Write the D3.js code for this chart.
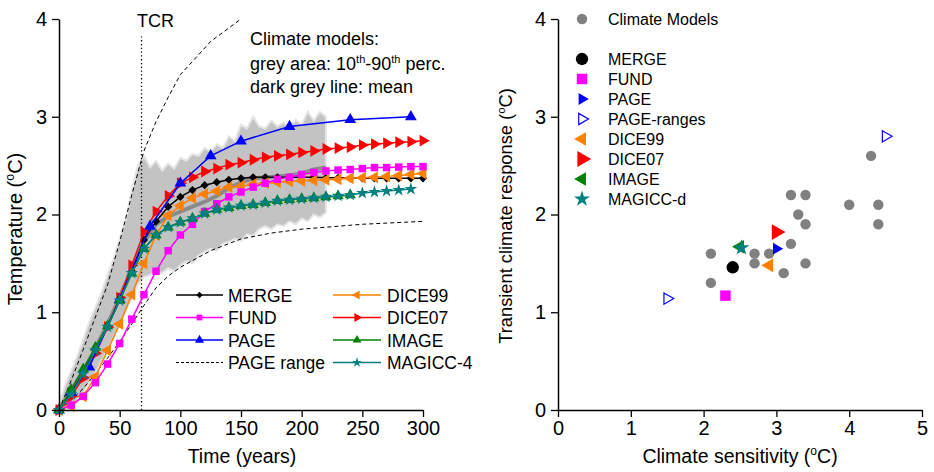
<!DOCTYPE html>
<html>
<head>
<meta charset="utf-8">
<script src="https://cdn.jsdelivr.net/npm/d3@7"></script>
<style>
  body { margin: 0; background: #fff; }
  svg text { font-family: Arial, "Liberation Sans", sans-serif; fill: #000; }
</style>
</head>
<body>
<svg id="chart" width="934" height="472"></svg>
<script>

// ---------- left panel data: temperature (°C) vs time (years) ----------
const decades = [0,10,20,30,40,50,60,70,80,90,100,110,120,130,140,150,160,170,180,190,200,210,220,230,240,250,260,270,280,290,300]
const mergeTemp  = [0,0.17,0.38,0.62,0.86,1.13,1.42,1.74,1.93,2.08,2.18,2.25,2.30,2.33,2.355,2.37,2.38,2.38,2.38,2.38,2.38,2.38,2.375,2.375,2.37,2.37,2.37,2.37,2.37,2.37,2.37]
const fundTemp   = [0,0.05,0.14,0.28,0.47,0.68,0.93,1.18,1.42,1.63,1.79,1.90,2.03,2.11,2.18,2.23,2.28,2.32,2.36,2.38,2.41,2.43,2.445,2.455,2.46,2.47,2.48,2.48,2.485,2.49,2.49]
const dice99Temp = [0,0.04,0.14,0.34,0.61,0.88,1.18,1.50,1.79,1.99,2.09,2.17,2.21,2.24,2.28,2.29,2.31,2.32,2.33,2.34,2.345,2.35,2.355,2.36,2.37,2.375,2.38,2.39,2.40,2.41,2.42]
const dice07Temp = [0,0.14,0.33,0.58,0.85,1.15,1.48,1.82,2.03,2.19,2.32,2.38,2.44,2.47,2.51,2.53,2.56,2.585,2.60,2.615,2.635,2.65,2.67,2.68,2.69,2.71,2.72,2.73,2.74,2.745,2.755]
const imageYears = [0,10,20,30,40,50,60,70,80,90,100,110,120,130,140,150,160,170,180,190,200,210,220,230,240]
const imageTemp  = [0,0.21,0.42,0.64,0.86,1.12,1.40,1.65,1.79,1.87,1.92,1.96,2.01,2.05,2.07,2.09,2.10,2.12,2.14,2.15,2.16,2.17,2.18,2.19,2.20]
const magiccYears = [0,10,20,30,40,50,60,70,80,90,100,110,120,130,140,150,160,170,180,190,200,210,220,230,240,250,260,270,280,290]
const magiccTemp  = [0,0.16,0.37,0.61,0.85,1.12,1.40,1.65,1.79,1.87,1.92,1.96,2.01,2.05,2.07,2.09,2.10,2.12,2.14,2.15,2.16,2.17,2.18,2.19,2.20,2.22,2.23,2.24,2.25,2.26]
const pageYears = [0,10,25,50,75,100,125,150,190,240,290]
const pageTemp  = [0,0.18,0.44,1.13,1.88,2.32,2.60,2.75,2.90,2.97,3.00]
const pageHiYears = [0,10,20,30,40,50,60,70,80,90,100,125,150]
const pageHiTemp  = [0,0.3,0.62,0.95,1.28,1.72,2.2,2.65,2.95,3.2,3.43,3.77,4.0]
const pageLoYears = [0,10,20,30,40,50,60,70,80,90,100,125,150,175,200,250,300]
const pageLoTemp  = [0,0.1,0.22,0.37,0.53,0.7,0.88,1.07,1.25,1.37,1.46,1.63,1.75,1.81,1.85,1.9,1.93]
// climate model 10th-90th percentile band and mean
const bandYears = [0,5,10,15,20,25,30,35,40,45,50,55,60,65,70,75,80,85,90,95,100,105,110,115,120,125,130,135,140,145,150,155,160,165,170,175,180,185,190,195,200,205,210,215,220]
const bandLow  = [0,0.02,0.05,0.1,0.18,0.28,0.38,0.5,0.62,0.75,0.88,1.02,1.15,1.28,1.36,1.38,1.42,1.4,1.45,1.42,1.48,1.52,1.5,1.58,1.62,1.65,1.63,1.7,1.72,1.75,1.73,1.8,1.78,1.85,1.88,1.85,1.9,1.88,1.93,1.9,1.96,1.93,2.0,1.97,2.02]
const bandHigh = [0.05,0.25,0.4,0.55,0.72,0.9,1.05,1.2,1.38,1.55,1.75,1.95,2.25,2.5,2.6,2.48,2.55,2.45,2.52,2.47,2.58,2.55,2.62,2.6,2.68,2.64,2.72,2.68,2.8,2.75,2.92,2.88,3.0,2.9,2.88,2.96,2.9,2.94,2.88,2.97,2.92,3.05,2.96,3.05,3.0]
const meanYears = [0,10,20,30,40,50,60,70,80,90,100,110,120,130,140,150,160,170,180,190,200,210,220]
const meanTemp  = [0,0.2,0.4,0.63,0.88,1.15,1.45,1.72,1.9,1.98,2.03,2.08,2.13,2.19,2.27,2.33,2.37,2.38,2.39,2.40,2.42,2.46,2.48]
const tcrYear = 68

// ---------- right panel data: TCR vs climate sensitivity ----------
const cmSens = [4.3,3.2,3.4,3.3,3.4,4.0,4.4,4.4,2.1,2.7,2.9,3.2,2.7,3.4,3.1,2.1]
const cmTcr  = [2.6,2.2,2.2,2.0,1.9,2.1,2.1,1.9,1.6,1.6,1.6,1.7,1.5,1.5,1.4,1.3]
const iamNames = ["MERGE","FUND","PAGE","PAGE-ranges","PAGE-ranges","DICE99","DICE07","IMAGE","MAGICC-d"]
const iamSens  = [2.4,2.3,3.0,1.5,4.5,2.9,3.0,2.5,2.52]
const iamTcr   = [1.46,1.17,1.65,1.14,2.8,1.48,1.82,1.67,1.66]
const rightLegend = ["MERGE","FUND","PAGE","PAGE-ranges","DICE99","DICE07","IMAGE","MAGICC-d"]

const svg = d3.select("#chart")

// symbol helper: shape + rotation
function markPath(kind, size) {
  const types = {diamond: d3.symbolSquare, square: d3.symbolSquare, triangle: d3.symbolTriangle,
                 circle: d3.symbolCircle, star: d3.symbolStar}
  return d3.symbol().type(types[kind]).size(size)()
}
const rot = {diamond: 45, square: 0, triangle: 0, circle: 0, star: 0}

// ================= LEFT PANEL =================
const xL = d3.scaleLinear().domain([0, 300]).range([59, 423])
const yL = d3.scaleLinear().domain([0, 4]).range([410, 19])

const left = svg.append("g")

// grey percentile band
const band = bandYears.map((y, i) => ({y, lo: bandLow[i], hi: bandHigh[i]}))
left.append("path")
  .datum(band)
  .attr("d", d3.area().x(d => xL(d.y)).y0(d => yL(d.lo)).y1(d => yL(d.hi)))
  .attr("fill", "#c3c3c3")
  .attr("stroke", "#e4e4e4")
  .attr("stroke-width", 2)

const line = d3.line().x(d => xL(d[0])).y(d => yL(d[1]))
const zipped = (xs, ys) => xs.map((x, i) => [x, ys[i]])

// mean line
left.append("path")
  .attr("d", line(zipped(meanYears, meanTemp)))
  .attr("fill", "none").attr("stroke", "#8a8a8a").attr("stroke-width", 4)

// PAGE range dashed lines
for (const [xs, ys] of [[pageHiYears, pageHiTemp], [pageLoYears, pageLoTemp]]) {
  left.append("path")
    .attr("d", line(zipped(xs, ys)))
    .attr("fill", "none").attr("stroke", "#000").attr("stroke-width", 1)
    .attr("stroke-dasharray", "4,3")
}

// TCR dotted vertical
left.append("line")
  .attr("x1", xL(tcrYear)).attr("x2", xL(tcrYear))
  .attr("y1", yL(0)).attr("y2", yL(3.82))
  .attr("stroke", "#000").attr("stroke-width", 1.3).attr("stroke-dasharray", "1.3,2.5")
left.append("text").attr("x", 137).attr("y", 27).attr("font-size", 18).text("TCR")

// model series
const leftSeries = [
  {name: "MERGE",    xs: decades,     ys: mergeTemp,  color: "#000000", kind: "diamond",  r: 0,   size: 34},
  {name: "DICE99",   xs: decades,     ys: dice99Temp, color: "#ff8000", kind: "triangle", r: -90, size: 60},
  {name: "FUND",     xs: decades,     ys: fundTemp,   color: "#ff00ff", kind: "square",   r: 0,   size: 56},
  {name: "DICE07",   xs: decades,     ys: dice07Temp, color: "#ff0000", kind: "triangle", r: 90,  size: 60},
  {name: "PAGE",     xs: pageYears,   ys: pageTemp,   color: "#0000ff", kind: "triangle", r: 0,   size: 60},
  {name: "IMAGE",    xs: imageYears,  ys: imageTemp,  color: "#008000", kind: "triangle", r: 0,   size: 55},
  {name: "MAGICC-4", xs: magiccYears, ys: magiccTemp, color: "#008080", kind: "star",     r: 0,   size: 50},
]

leftSeries.forEach(s => {
  const pts = zipped(s.xs, s.ys)
  left.append("path")
    .attr("d", line(pts))
    .attr("fill", "none").attr("stroke", s.color).attr("stroke-width", 1.5)
  left.selectAll(null)
    .data(pts)
    .join("path")
      .attr("d", markPath(s.kind, s.size))
      .attr("transform", d => `translate(${xL(d[0])},${yL(d[1])}) rotate(${rot[s.kind] + s.r})`)
      .attr("fill", s.color)
})

// left legend
const legCols = [
  {x0: 176, x1: 223, tx: 228, items: ["MERGE", "FUND", "PAGE", "PAGE range"]},
  {x0: 333, x1: 381, tx: 387, items: ["DICE99", "DICE07", "IMAGE", "MAGICC-4"]},
]
const legRowY = [295, 317.5, 340, 362.5]
legCols.forEach(col => {
  col.items.forEach((name, i) => {
    const y = legRowY[i]
    const g = left.append("g")
    if (name === "PAGE range") {
      g.append("line").attr("x1", col.x0).attr("x2", col.x1).attr("y1", y).attr("y2", y)
        .attr("stroke", "#000").attr("stroke-width", 1).attr("stroke-dasharray", "3,2")
    } else {
      const s = leftSeries.find(d => d.name === name)
      g.append("line").attr("x1", col.x0).attr("x2", col.x1).attr("y1", y).attr("y2", y)
        .attr("stroke", s.color).attr("stroke-width", 1.5)
      g.append("path")
        .attr("d", markPath(s.kind, s.size * 0.6))
        .attr("transform", `translate(${(col.x0 + col.x1) / 2},${y}) rotate(${rot[s.kind] + s.r})`)
        .attr("fill", s.color)
    }
    g.append("text").attr("x", col.tx).attr("y", y + 6.5).attr("font-size", 17.5).text(name)
  })
})

// annotation
left.append("text").attr("font-size", 18).attr("x", 250).attr("y", 45).text("Climate models:")
const n2 = left.append("text").attr("font-size", 18).attr("x", 250).attr("y", 70)
n2.append("tspan").text("grey area: 10")
n2.append("tspan").attr("font-size", 11).attr("dy", -7).text("th")
n2.append("tspan").attr("dy", 7).text("-90")
n2.append("tspan").attr("font-size", 11).attr("dy", -7).text("th")
n2.append("tspan").attr("dy", 7).text(" perc.")
left.append("text").attr("font-size", 18).attr("x", 250).attr("y", 93).text("dark grey line: mean")

// ================= RIGHT PANEL =================
const xR = d3.scaleLinear().domain([0, 5]).range([558, 922])
const yR = d3.scaleLinear().domain([0, 4]).range([410, 19])

const right = svg.append("g")

right.selectAll(null)
  .data(cmSens.map((s, i) => [s, cmTcr[i]]))
  .join("circle")
    .attr("cx", d => xR(d[0])).attr("cy", d => yR(d[1])).attr("r", 5.2)
    .attr("fill", "#808080")

const iamStyle = {
  "MERGE":       {color: "#000000", kind: "circle",   r: 0,   size: 120, fill: true},
  "FUND":        {color: "#ff00ff", kind: "square",   r: 0,   size: 110, fill: true},
  "PAGE":        {color: "#0000ff", kind: "triangle", r: 90,  size: 60,  fill: true},
  "PAGE-ranges": {color: "#0000ff", kind: "triangle", r: 90,  size: 55,  fill: false},
  "DICE99":      {color: "#ff8000", kind: "triangle", r: -90, size: 80,  fill: true},
  "DICE07":      {color: "#ff0000", kind: "triangle", r: 90,  size: 110, fill: true},
  "IMAGE":       {color: "#008000", kind: "triangle", r: -90, size: 80,  fill: true},
  "MAGICC-d":    {color: "#008080", kind: "star",     r: 0,   size: 80,  fill: true},
}

function iamMark(g, name, x, y) {
  const st = iamStyle[name]
  g.append("path")
    .attr("d", markPath(st.kind, st.size))
    .attr("transform", `translate(${x},${y}) rotate(${rot[st.kind] + st.r})`)
    .attr("fill", st.fill ? st.color : "#fff")
    .attr("stroke", st.fill ? "none" : st.color)
    .attr("stroke-width", 1.2)
}

iamNames.forEach((name, i) => iamMark(right, name, xR(iamSens[i]), yR(iamTcr[i])))

// right legend
right.append("circle").attr("cx", 582).attr("cy", 19).attr("r", 5.2).attr("fill", "#808080")
right.append("text").attr("x", 608).attr("y", 25).attr("font-size", 16).text("Climate Models")
rightLegend.forEach((name, i) => {
  const y = 59 + i * 20
  iamMark(right, name, 582, y)
  right.append("text").attr("x", 608).attr("y", y + 6).attr("font-size", 16).text(name)
})

// ================= AXES =================
function drawAxes(x, y, xMajor, xMinor, yMajor, yMinor) {
  const gx = svg.append("g").attr("transform", `translate(0,${y.range()[0]})`)
  gx.call(d3.axisBottom(x).tickValues(xMinor).tickSize(4).tickFormat("").tickSizeOuter(0))
  gx.call(d3.axisBottom(x).tickValues(xMajor).tickSize(7).tickPadding(4).tickSizeOuter(0).tickFormat(d3.format("d")))
  const gy = svg.append("g").attr("transform", `translate(${x.range()[0]},0)`)
  gy.call(d3.axisLeft(y).tickValues(yMinor).tickSize(4).tickFormat("").tickSizeOuter(0))
  gy.call(d3.axisLeft(y).tickValues(yMajor).tickSize(7).tickPadding(5).tickSizeOuter(0).tickFormat(d3.format("d")))
  for (const g of [gx, gy]) {
    g.selectAll("path.domain").attr("stroke-width", 1.5)
    g.selectAll("line").attr("stroke-width", 1.3)
    g.selectAll("text").attr("font-size", 20).attr("font-family", "Arial, 'Liberation Sans', sans-serif")
  }
}
drawAxes(xL, yL, [0,50,100,150,200,250,300], [25,75,125,175,225,275], [0,1,2,3,4], [0.5,1.5,2.5,3.5])
drawAxes(xR, yR, [0,1,2,3,4,5], [0.5,1.5,2.5,3.5,4.5], [0,1,2,3,4], [0.5,1.5,2.5,3.5])

// axis titles
function degTitle(g, before, after, size, attrs) {
  const t = g.append("text").attr("font-size", size).attr("text-anchor", "middle")
  Object.entries(attrs).forEach(([k, v]) => t.attr(k, v))
  t.append("tspan").text(before)
  t.append("tspan").attr("font-size", size * 0.62).attr("dy", -size * 0.4).text("o")
  t.append("tspan").attr("dy", size * 0.4).text(after)
  return t
}
svg.append("text").attr("x", 242).attr("y", 463).attr("font-size", 19.5).attr("text-anchor", "middle").text("Time (years)")
degTitle(svg, "Temperature (", "C)", 20, {transform: "translate(22,229) rotate(-90)"})
degTitle(svg, "Climate sensitivity (", "C)", 19.5, {x: 740, y: 463})
degTitle(svg, "Transient climate response (", "C)", 18.3, {transform: "translate(512,216) rotate(-90)"})

</script>
</body>
</html>
